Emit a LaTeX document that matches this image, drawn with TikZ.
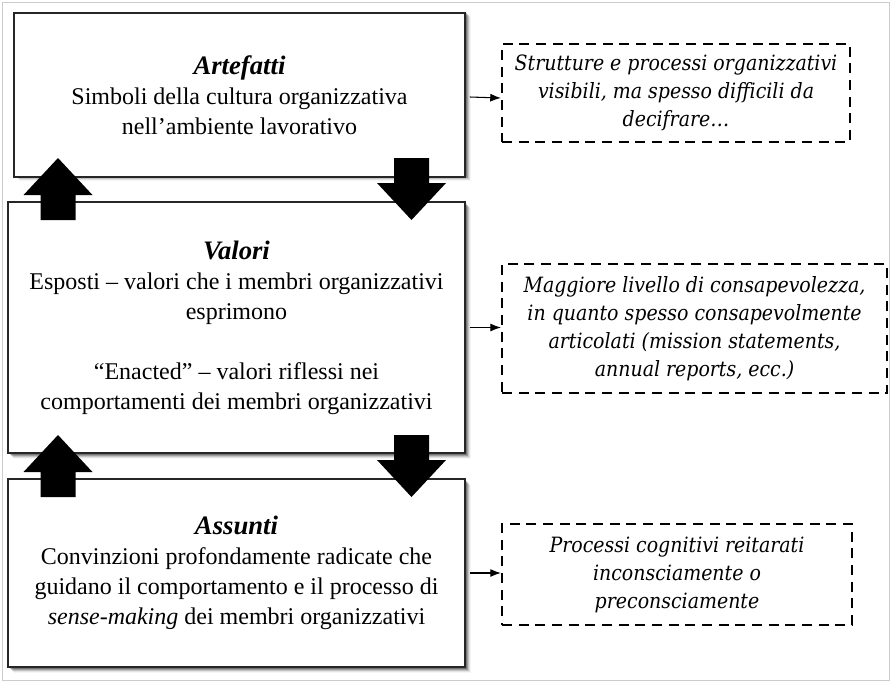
\documentclass[tikz,border=0pt]{standalone}
\usepackage{fontspec}
\setmainfont{Liberation Serif}
\newfontfamily\dvfont{DejaVu Serif Condensed}
\usetikzlibrary{arrows.meta}
\newcommand\mkshadow[4]{%
  \foreach \i/\o in {1/0.28,2/0.24,3/0.2,4/0.14,5/0.08,6/0.04}{%
    \fill[black,opacity=\o] ({#1+\i},{#2+\i}) rectangle ({#3+\i},{#4+\i});}}
\newcommand\ttl[1]{{\fontsize{20}{22.5}\selectfont\textbf{\textit{#1}}}}
\begin{document}
\begin{tikzpicture}[x=0.75pt,y=-0.75pt,
  mainbox/.style={draw=black!85, line width=1.2pt, fill=white, inner sep=0pt, align=center,
    font=\fontsize{18}{22.5}\selectfont},
  notebox/.style={draw=black, line width=1.6pt, dash pattern=on 7.5pt off 5pt, inner sep=0pt,
    align=center, font=\dvfont\itshape\fontsize{15.8}{21}\selectfont},
  link/.style={line width=0.8pt, -{Latex[length=8pt,width=6pt]}},
  uparrow/.pic={\fill[black] (0,0) -- (34.5,37) -- (17.5,37) -- (17.5,62) -- (-17.5,62) -- (-17.5,37) -- (-34.5,37) -- cycle;},
  downarrow/.pic={\fill[black] (-17.5,0) -- (17.5,0) -- (17.5,25) -- (34.5,25) -- (0,62) -- (-34.5,25) -- (-17.5,25) -- cycle;},
]
\useasboundingbox (0,0) rectangle (892,683);
\draw[black!20, line width=1.2pt] (2.5,2.5) rectangle (889.5,680.5);

% main boxes
\mkshadow{14}{11}{465}{175}
\node[mainbox, minimum width=451*0.75pt, minimum height=164*0.75pt] (art) at (239.5,95)
  {\ttl{Artefatti}\\Simboli della cultura organizzativa\\nell’ambiente lavorativo};
\mkshadow{8}{202}{465}{453}
\node[mainbox, minimum width=457*0.75pt, minimum height=251*0.75pt] (val) at (236.5,327.5)
  {\ttl{Valori}\\Esposti – valori che i membri organizzativi\\esprimono\\[22.5pt]“Enacted” – valori riflessi nei\\comportamenti dei membri organizzativi};
\mkshadow{8}{479}{465}{667}
\node[mainbox, minimum width=457*0.75pt, minimum height=188*0.75pt] (ass) at (236.5,573)
  {\ttl{Assunti}\\Convinzioni profondamente radicate che\\guidano il comportamento e il processo di\\\textit{sense-making} dei membri organizzativi};

% note boxes
\node[notebox, minimum width=348*0.75pt, minimum height=98*0.75pt] (nA) at (676,93)
  {Strutture e processi organizzativi\\visibili, ma spesso difficili da\\decifrare…};
\node[notebox, minimum width=385*0.75pt, minimum height=129*0.75pt] (nB) at (694.5,328.5)
  {Maggiore livello di consapevolezza,\\in quanto spesso consapevolmente\\articolati (mission statements,\\annual reports, ecc.)};
\node[notebox, minimum width=350*0.75pt, minimum height=101*0.75pt] (nC) at (677,574.5)
  {Processi cognitivi reitarati\\inconsciamente o\\preconsciamente};

% connectors
\draw[link] ([xshift=3pt,yshift=-1.5pt]art.east) -- ([yshift=-3.75pt]nA.west);
\draw[link] ([xshift=3pt]val.east) -- (val.east -| nB.west);
\draw[link] ([xshift=3pt]ass.east) -- (ass.east -| nC.west);

% block arrows
\pic at (58,158) {uparrow};
\pic at (411.5,158) {downarrow};
\pic at (58,435) {uparrow};
\pic at (411.5,435) {downarrow};
\end{tikzpicture}
\end{document}
